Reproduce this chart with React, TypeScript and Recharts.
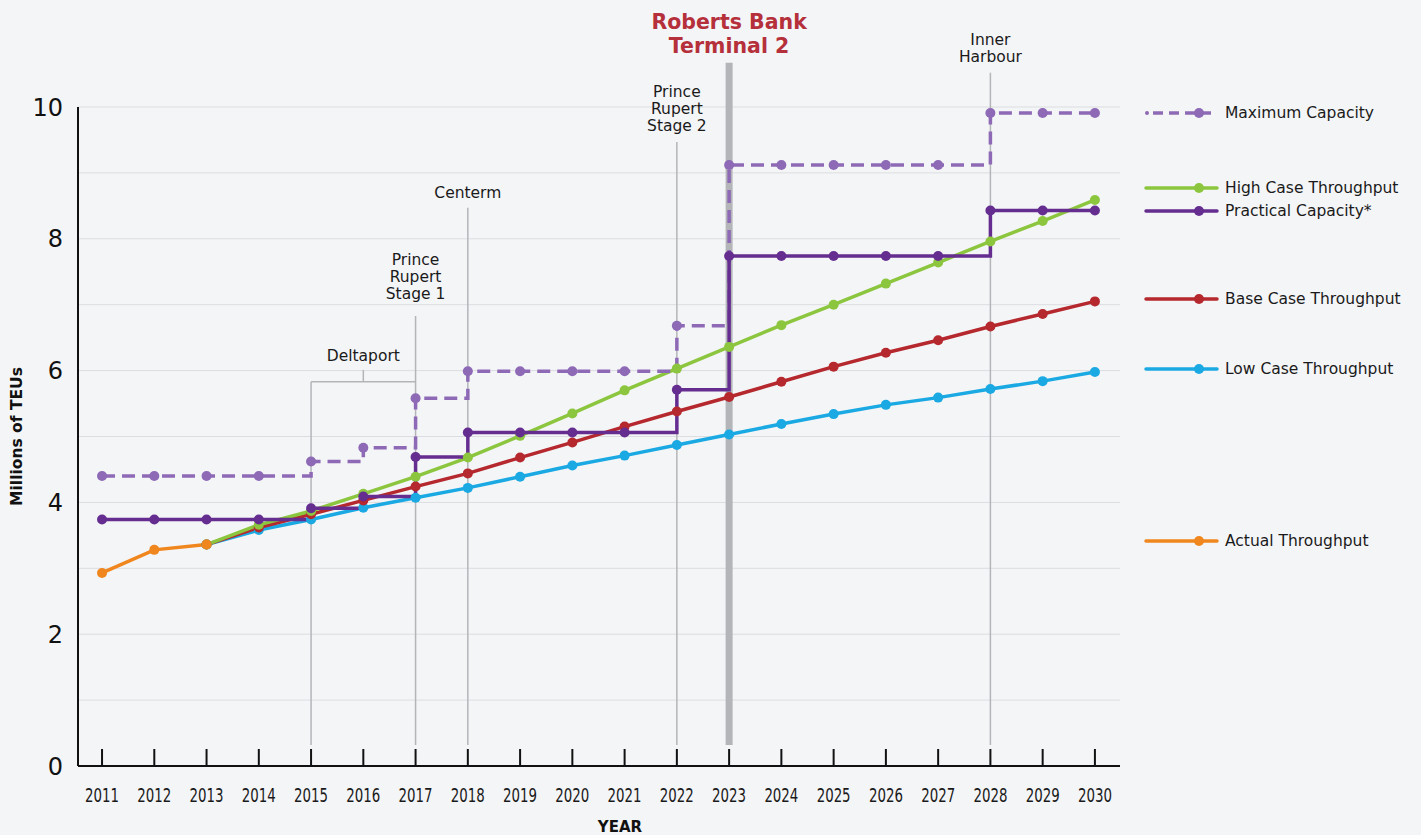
import React from "react";
import {
  LineChart,
  Line,
  XAxis,
  YAxis,
  CartesianGrid,
  ReferenceLine,
} from "recharts";

// values (millions of TEUs)
const years = [2011, 2012, 2013, 2014, 2015, 2016, 2017, 2018, 2019, 2020, 2021, 2022, 2023, 2024, 2025, 2026, 2027, 2028, 2029, 2030];
const actual = [2.93, 3.28, 3.36, null, null, null, null, null, null, null, null, null, null, null, null, null, null, null, null, null];
const highCase = [null, null, 3.36, 3.66, 3.87, 4.13, 4.39, 4.68, 5.01, 5.35, 5.7, 6.03, 6.36, 6.69, 7.0, 7.32, 7.64, 7.96, 8.27, 8.59];
const baseCase = [null, null, 3.36, 3.62, 3.82, 4.03, 4.24, 4.44, 4.68, 4.91, 5.15, 5.38, 5.6, 5.83, 6.06, 6.27, 6.46, 6.67, 6.86, 7.05];
const lowCase = [null, null, 3.36, 3.58, 3.74, 3.92, 4.07, 4.22, 4.39, 4.56, 4.71, 4.87, 5.03, 5.19, 5.34, 5.48, 5.59, 5.72, 5.84, 5.98];
const maxCapacity = [4.4, 4.4, 4.4, 4.4, 4.62, 4.83, 5.58, 5.99, 5.99, 5.99, 5.99, 6.68, 9.12, 9.12, 9.12, 9.12, 9.12, 9.91, 9.91, 9.91];
const practicalCapacity = [3.74, 3.74, 3.74, 3.74, 3.91, 4.09, 4.69, 5.06, 5.06, 5.06, 5.06, 5.71, 7.74, 7.74, 7.74, 7.74, 7.74, 8.43, 8.43, 8.43];

const yTicks = [0, 2, 4, 6, 8, 10];
const gridValues = [1, 2, 3, 4, 5, 6, 7, 8, 9, 10];

const FONT = "'DejaVu Sans', Verdana, sans-serif";
const BG = "#f4f5f7";
const GUIDE = "#b3b5b8";

const COLORS = {
  max: "#8d69b6",
  practical: "#652d90",
  high: "#8cc63f",
  base: "#b5282e",
  low: "#1aa9e2",
  actual: "#f0861e",
};

const data = years.map((year, i) => ({
  year,
  actual: actual[i],
  high: highCase[i],
  base: baseCase[i],
  low: lowCase[i],
  max: maxCapacity[i],
  practical: practicalCapacity[i],
}));

const legendItems = [
  { label: "Maximum Capacity", color: COLORS.max, dashed: true, top: 113 },
  { label: "High Case Throughput", color: COLORS.high, top: 188 },
  { label: "Practical Capacity*", color: COLORS.practical, top: 211 },
  { label: "Base Case Throughput", color: COLORS.base, top: 299 },
  { label: "Low Case Throughput", color: COLORS.low, top: 369 },
  { label: "Actual Throughput", color: COLORS.actual, top: 541 },
];

function StackedLabel(props: any) {
  const { viewBox, lines, gap, lineHeight = 17, size = 15.5, color = "#1a1a1a", weight = 400 } = props;
  const cx = viewBox.x + (viewBox.width || 0) / 2;
  const last = viewBox.y - gap;
  return (
    <text textAnchor="middle" fontFamily={FONT} fontSize={size} fontWeight={weight} fill={color}>
      {lines.map((l: string, i: number) => (
        <tspan key={i} x={cx} y={last - (lines.length - 1 - i) * lineHeight}>
          {l}
        </tspan>
      ))}
    </text>
  );
}

// year ticks: short inward tick mark plus a narrow label
function XTick(props: any) {
  const { x, y, payload } = props;
  return (
    <g>
      <line x1={x} x2={x} y1={y - 17} y2={y} stroke="#111" strokeWidth={2} />
      <text
        x={x}
        y={y + 36}
        textAnchor="middle"
        fontFamily={FONT}
        fontSize={19}
        textLength={34}
        lengthAdjust="spacingAndGlyphs"
        fill="#1a1a1a"
      >
        {payload.value}
      </text>
    </g>
  );
}

export default function App() {
  const dot = (c: string) => ({ r: 5, fill: c, stroke: "none" });
  return (
    <div style={{ position: "absolute", left: 0, top: 0, width: 1421, height: 835, background: BG }}>
      <LineChart width={1421} height={835} data={data} margin={{ top: 107, right: 301, bottom: 0, left: 0 }}>
        <CartesianGrid vertical={false} stroke="#dcdde0" strokeWidth={1} horizontalValues={gridValues} />
        <XAxis
          dataKey="year"
          type="number"
          domain={[2010.54, 2030.48]}
          allowDataOverflow
          ticks={years}
          interval={0}
          height={69}
          axisLine={{ stroke: "#111", strokeWidth: 2 }}
          tickLine={false}
          tickSize={0}
          tickMargin={0}
          tick={<XTick />}
          label={(p: any) => (
            <text
              x={p.viewBox.x + p.viewBox.width / 2 + 21}
              y={p.viewBox.y + p.viewBox.height - 3}
              textAnchor="middle"
              fontFamily={FONT}
              fontWeight={700}
              fontSize={15}
              fill="#111"
            >
              YEAR
            </text>
          )}
        />
        <YAxis
          type="number"
          domain={[0, 10]}
          ticks={yTicks}
          width={78}
          axisLine={{ stroke: "#111", strokeWidth: 2 }}
          tickLine={false}
          tickSize={0}
          tickMargin={15}
          tick={{ fontSize: 24, fill: "#111", fontFamily: FONT }}
          label={(p: any) => {
            const cy = p.viewBox.y + p.viewBox.height / 2;
            return (
              <text
                x={17}
                y={cy}
                transform={`rotate(-90, 17, ${cy})`}
                textAnchor="middle"
                dominantBaseline="central"
                fontFamily={FONT}
                fontWeight={700}
                fontSize={15.5}
                fill="#111"
              >
                Millions of TEUs
              </text>
            );
          }}
        />

        {/* Deltaport bracket */}
        <ReferenceLine segment={[{ x: 2015, y: 0.32 }, { x: 2015, y: 5.83 }]} stroke={GUIDE} strokeWidth={1.5} ifOverflow="visible" />
        <ReferenceLine segment={[{ x: 2015, y: 5.83 }, { x: 2017, y: 5.83 }]} stroke={GUIDE} strokeWidth={1.5} ifOverflow="visible" />
        <ReferenceLine
          segment={[{ x: 2016, y: 5.83 }, { x: 2016, y: 6.01 }]}
          stroke={GUIDE}
          strokeWidth={1.5}
          ifOverflow="visible"
          label={(p: any) => <StackedLabel {...p} lines={["Deltaport"]} gap={8.5} />}
        />
        {/* Prince Rupert Stage 1 */}
        <ReferenceLine
          segment={[{ x: 2017, y: 0.32 }, { x: 2017, y: 6.83 }]}
          stroke={GUIDE}
          strokeWidth={1.5}
          ifOverflow="visible"
          label={(p: any) => <StackedLabel {...p} lines={["Prince", "Rupert", "Stage 1"]} gap={16.5} />}
        />
        {/* Centerm */}
        <ReferenceLine
          segment={[{ x: 2018, y: 0.32 }, { x: 2018, y: 8.47 }]}
          stroke={GUIDE}
          strokeWidth={1.5}
          ifOverflow="visible"
          label={(p: any) => <StackedLabel {...p} lines={["Centerm"]} gap={9.5} />}
        />
        {/* Prince Rupert Stage 2 */}
        <ReferenceLine
          segment={[{ x: 2022, y: 0.32 }, { x: 2022, y: 9.47 }]}
          stroke={GUIDE}
          strokeWidth={1.5}
          ifOverflow="visible"
          label={(p: any) => <StackedLabel {...p} lines={["Prince", "Rupert", "Stage 2"]} gap={10.5} />}
        />
        {/* Roberts Bank Terminal 2 */}
        <ReferenceLine
          segment={[{ x: 2023, y: 0.32 }, { x: 2023, y: 10.67 }]}
          stroke={GUIDE}
          strokeWidth={7}
          ifOverflow="visible"
          label={(p: any) => (
            <StackedLabel {...p} lines={["Roberts Bank", "Terminal 2"]} gap={9.5} lineHeight={24} size={20.5} weight={700} color="#b5303a" />
          )}
        />
        {/* Inner Harbour */}
        <ReferenceLine
          segment={[{ x: 2028, y: 0.32 }, { x: 2028, y: 10.52 }]}
          stroke={GUIDE}
          strokeWidth={1.5}
          ifOverflow="visible"
          label={(p: any) => <StackedLabel {...p} lines={["Inner", "Harbour"]} gap={10.5} />}
        />

        <Line dataKey="low" stroke={COLORS.low} strokeWidth={3.5} dot={dot(COLORS.low)} activeDot={false} isAnimationActive={false} />
        <Line dataKey="base" stroke={COLORS.base} strokeWidth={3.5} dot={dot(COLORS.base)} activeDot={false} isAnimationActive={false} />
        <Line dataKey="high" stroke={COLORS.high} strokeWidth={3.5} dot={dot(COLORS.high)} activeDot={false} isAnimationActive={false} />
        <Line dataKey="actual" stroke={COLORS.actual} strokeWidth={3.5} dot={dot(COLORS.actual)} activeDot={false} isAnimationActive={false} />
        <Line
          dataKey="max"
          type="stepAfter"
          stroke={COLORS.max}
          strokeWidth={3.5}
          strokeDasharray="13 7"
          dot={dot(COLORS.max)}
          activeDot={false}
          isAnimationActive={false}
        />
        <Line
          dataKey="practical"
          type="stepAfter"
          stroke={COLORS.practical}
          strokeWidth={3.5}
          dot={dot(COLORS.practical)}
          activeDot={false}
          isAnimationActive={false}
        />
      </LineChart>

      {/* legend */}
      {legendItems.map((item) => (
        <div key={item.label} style={{ position: "absolute", left: 1142, top: item.top - 10, height: 20, display: "flex", alignItems: "center" }}>
          <svg width={80} height={20}>
            {item.dashed ? (
              <>
                <circle cx={5} cy={10} r={2} fill={item.color} />
                <line x1={11} x2={75} y1={10} y2={10} stroke={item.color} strokeWidth={3.5} strokeDasharray="10 6" />
              </>
            ) : (
              <line x1={4} x2={75} y1={10} y2={10} stroke={item.color} strokeWidth={3.5} strokeLinecap="round" />
            )}
            <circle cx={57} cy={10} r={5} fill={item.color} />
          </svg>
          <span style={{ marginLeft: 3, fontFamily: FONT, fontSize: 15.5, color: "#1a1a1a", whiteSpace: "nowrap" }}>{item.label}</span>
        </div>
      ))}
    </div>
  );
}
